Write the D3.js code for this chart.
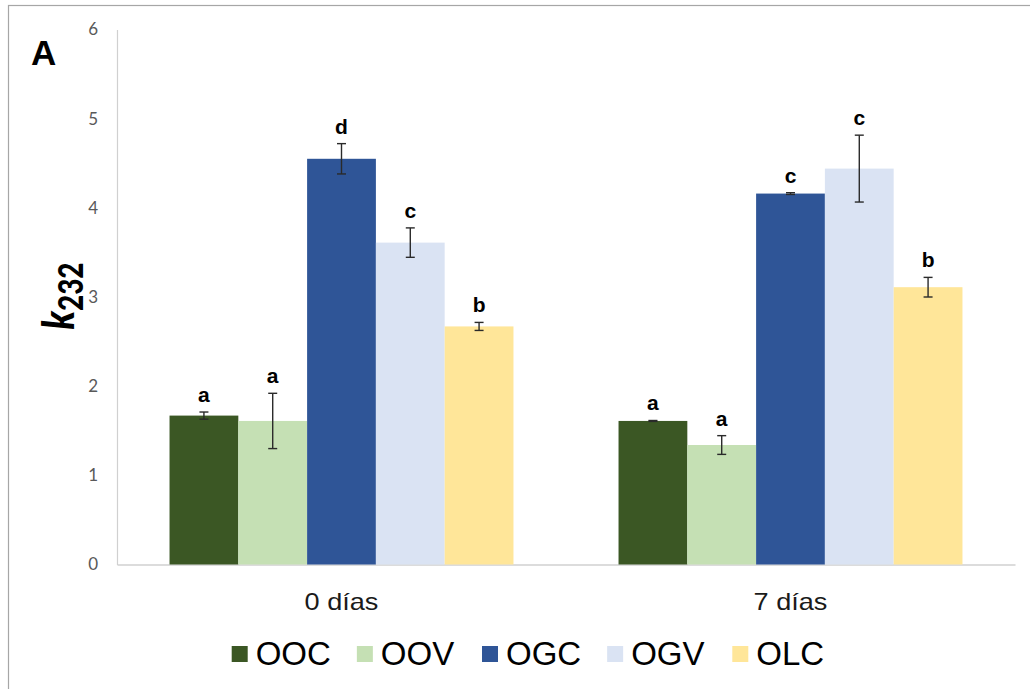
<!DOCTYPE html>
<html>
<head>
<meta charset="utf-8">
<script src="https://cdn.jsdelivr.net/npm/d3@7"></script>
<style>
html,body{margin:0;padding:0;background:#fff;}
svg{display:block;}
</style>
</head>
<body>
<svg id="chart" width="1030" height="689"></svg>
<script>
const categories = ["0 días", "7 días"];
const seriesNames = ["OOC", "OOV", "OGC", "OGV", "OLC"];
const seriesColors = ["#3B5724", "#C5E0B4", "#2F5597", "#DAE3F3", "#FFE699"];
const valuesDay0 = [1.67, 1.61, 4.55, 3.61, 2.67];
const valuesDay7 = [1.61, 1.34, 4.16, 4.44, 3.11];
const errorsDay0 = [0.04, 0.31, 0.17, 0.165, 0.045];
const errorsDay7 = [0.005, 0.105, 0.01, 0.375, 0.11];
const lettersDay0 = ["a", "a", "d", "c", "b"];
const lettersDay7 = ["a", "a", "c", "c", "b"];
const yTicks = [0, 1, 2, 3, 4, 5, 6];

const groups = [
  {cat: categories[0], values: valuesDay0, errors: errorsDay0, letters: lettersDay0},
  {cat: categories[1], values: valuesDay7, errors: errorsDay7, letters: lettersDay7}
];

const svg = d3.select("#chart");

// outer frame
svg.append("rect").attr("x", 8.5).attr("y", 5.5).attr("width", 1040).attr("height", 700)
  .attr("fill", "#fff").attr("stroke", "#a6a6a6").attr("stroke-width", 1.2);

const pLeft = 117, pRight = 1015, pTop = 29.5, pBottom = 564.5;

const x0 = d3.scaleBand().domain(categories).range([pLeft, pRight]).paddingInner(0.234).paddingOuter(0.117);
const x1 = d3.scaleBand().domain(seriesNames).range([0, x0.bandwidth()]).padding(0);
const y = d3.scaleLinear().domain([0, 6]).range([pBottom, pTop]);
const color = d3.scaleOrdinal().domain(seriesNames).range(seriesColors);

// y axis
const yAxis = d3.axisLeft(y).tickValues(yTicks).tickSize(0).tickPadding(19).tickFormat(d3.format("d"));
const yg = svg.append("g").attr("transform", `translate(${pLeft},0)`).call(yAxis);
yg.select(".domain").attr("stroke", "#d0d0d0").attr("stroke-width", 1.2);
yg.selectAll("text").attr("font-family", "Lato, 'Open Sans', sans-serif").attr("font-size", 17)
  .attr("fill", "#595959");

// x axis (baseline)
const xAxis = d3.axisBottom(x0).tickSize(0).tickPadding(28.5);
const xg = svg.append("g").attr("transform", `translate(0,${pBottom})`).call(xAxis);
xg.select(".domain").attr("stroke", "#d0d0d0").attr("stroke-width", 1.5);
xg.selectAll("text").attr("font-family", "Liberation Sans, Arial, sans-serif").attr("font-size", 24)
  .attr("fill", "#1a1a1a").attr("transform", "scale(1.13,1)");

// bars
const gGroups = svg.append("g").selectAll("g").data(groups).join("g")
  .attr("transform", d => `translate(${x0(d.cat)},0)`);

const items = gGroups.selectAll("g.item")
  .data(d => seriesNames.map((s, i) => ({s, v: d.values[i], e: d.errors[i], l: d.letters[i]})))
  .join("g").attr("class", "item");

items.append("rect")
  .attr("x", d => x1(d.s))
  .attr("y", d => y(d.v))
  .attr("width", x1.bandwidth())
  .attr("height", d => y(0) - y(d.v))
  .attr("fill", d => color(d.s));

// error bars
const cap = 4.5;
const ebColor = "#2a2a2a", ebWidth = 1.4;
items.append("line")
  .attr("x1", d => x1(d.s) + x1.bandwidth() / 2).attr("x2", d => x1(d.s) + x1.bandwidth() / 2)
  .attr("y1", d => y(d.v + d.e)).attr("y2", d => y(d.v - d.e))
  .attr("stroke", ebColor).attr("stroke-width", ebWidth);
items.append("line")
  .attr("x1", d => x1(d.s) + x1.bandwidth() / 2 - cap).attr("x2", d => x1(d.s) + x1.bandwidth() / 2 + cap)
  .attr("y1", d => y(d.v + d.e)).attr("y2", d => y(d.v + d.e))
  .attr("stroke", ebColor).attr("stroke-width", ebWidth);
items.append("line")
  .attr("x1", d => x1(d.s) + x1.bandwidth() / 2 - cap).attr("x2", d => x1(d.s) + x1.bandwidth() / 2 + cap)
  .attr("y1", d => y(d.v - d.e)).attr("y2", d => y(d.v - d.e))
  .attr("stroke", ebColor).attr("stroke-width", ebWidth);

// letters
items.append("text")
  .attr("x", d => x1(d.s) + x1.bandwidth() / 2)
  .attr("y", d => y(d.v + d.e) - 10)
  .attr("text-anchor", "middle")
  .attr("font-family", "Liberation Sans, Arial, sans-serif")
  .attr("font-weight", "bold").attr("font-size", 21).attr("fill", "#000")
  .text(d => d.l);

// panel letter
svg.append("text").attr("x", 31).attr("y", 65)
  .attr("font-family", "Liberation Sans, Arial, sans-serif").attr("font-weight", "bold")
  .attr("font-size", 35).attr("fill", "#000").text("A");

// y label
const yl = svg.append("text")
  .attr("transform", "translate(74,296) rotate(-90) scale(0.82,1)")
  .attr("text-anchor", "middle")
  .attr("font-family", "Lato, 'Open Sans', sans-serif").attr("font-weight", "900").attr("fill", "#000");
yl.append("tspan").attr("font-style", "italic").attr("font-size", 44).text("k");
yl.append("tspan").attr("font-size", 34).attr("dy", 9).text("232");

// legend
const legend = svg.append("g");
const legX = d3.scalePoint().domain(seriesNames).range([231.7, 732.3]);
const li = legend.selectAll("g").data(seriesNames).join("g")
  .attr("transform", d => `translate(${legX(d)},646)`);
li.append("rect").attr("width", 16).attr("height", 16).attr("fill", d => color(d));
li.append("text").attr("x", 24).attr("y", 19)
  .attr("font-family", "Liberation Sans, Arial, sans-serif").attr("font-size", 33).attr("fill", "#000")
  .text(d => d);
</script>
</body>
</html>
